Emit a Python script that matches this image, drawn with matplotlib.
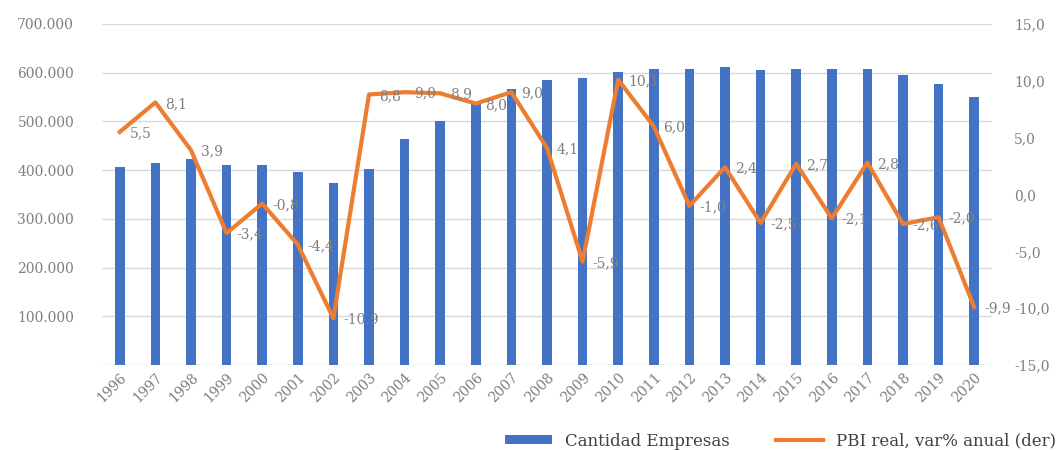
#!/usr/bin/env python3

import matplotlib
matplotlib.use('Agg')
import matplotlib.pyplot as plt
from matplotlib.ticker import FuncFormatter, MultipleLocator

years = [str(y) for y in range(1996, 2021)]
empresas = [407000, 414000, 422000, 410000, 410000, 396000, 374000, 403000,
            464000, 501000, 538000, 567000, 585000, 590000, 601000, 607000,
            607000, 612000, 605000, 607000, 607000, 607000, 595000, 576000,
            550000]
pbi = [5.5, 8.1, 3.9, -3.4, -0.8, -4.4, -10.9, 8.8, 9.0, 8.9, 8.0, 9.0,
       4.1, -5.9, 10.1, 6.0, -1.0, 2.4, -2.5, 2.7, -2.1, 2.8, -2.6, -2.0,
       -9.9]

BLUE = '#4472C4'
ORANGE = '#ED7D31'
GRAY = '#7F7F7F'


def left_fmt(v, p):
    if v == 0:
        return ''
    return '{:,.0f}'.format(v).replace(',', '.')


def main():
    plt.rcParams['font.family'] = ['DejaVu Serif']

    fig = plt.figure(figsize=(10.58, 4.5), dpi=100)
    ax = fig.add_axes([0.0964, 0.1889, 0.8412, 0.7578])
    ax2 = ax.twinx()

    x = list(range(len(years)))
    ax.bar(x, empresas, width=0.27, color=BLUE, zorder=2,
           label='Cantidad Empresas')
    ax.set_ylim(0, 700000)
    ax.yaxis.set_major_locator(MultipleLocator(100000))
    ax.yaxis.set_major_formatter(FuncFormatter(left_fmt))
    ax.grid(axis='y', color='#D9D9D9', linewidth=1, zorder=0)
    ax.set_axisbelow(True)
    ax.set_xlim(-0.5, len(years) - 0.5)
    ax.set_xticks(x)
    ax.set_xticklabels(years, rotation=45, ha='right',
                       rotation_mode='anchor')

    ax2.plot(x, pbi, color=ORANGE, linewidth=3, zorder=3,
             label='PBI real, var% anual (der)')
    ax2.set_ylim(-15, 15)
    ax2.yaxis.set_major_locator(MultipleLocator(5))
    ax2.yaxis.set_major_formatter(
        FuncFormatter(lambda v, p: '{:.1f}'.format(v).replace('.', ',')))
    for xi, v in zip(x, pbi):
        ax2.annotate('{:.1f}'.format(v).replace('.', ','), (xi, v),
                     xytext=(7, -1), textcoords='offset points',
                     ha='left', va='center', fontsize=10, color=GRAY)

    for a in (ax, ax2):
        for s in a.spines.values():
            s.set_visible(False)
        a.tick_params(length=0, colors=GRAY, labelsize=10)
    ax.tick_params(axis='y', pad=20)
    ax.tick_params(axis='x', pad=4)
    ax2.tick_params(axis='y', pad=16)

    h1, l1 = ax.get_legend_handles_labels()
    h2, l2 = ax2.get_legend_handles_labels()
    fig.legend(h1 + h2, l1 + l2, loc='center', ncol=2,
               bbox_to_anchor=(0.738, 0.02), frameon=False, fontsize=12,
               handlelength=2.8, handleheight=0.5, columnspacing=2.8,
               labelcolor='#404040')

    plt.savefig('out.png', dpi=100)


if __name__ == "__main__":
    main()
